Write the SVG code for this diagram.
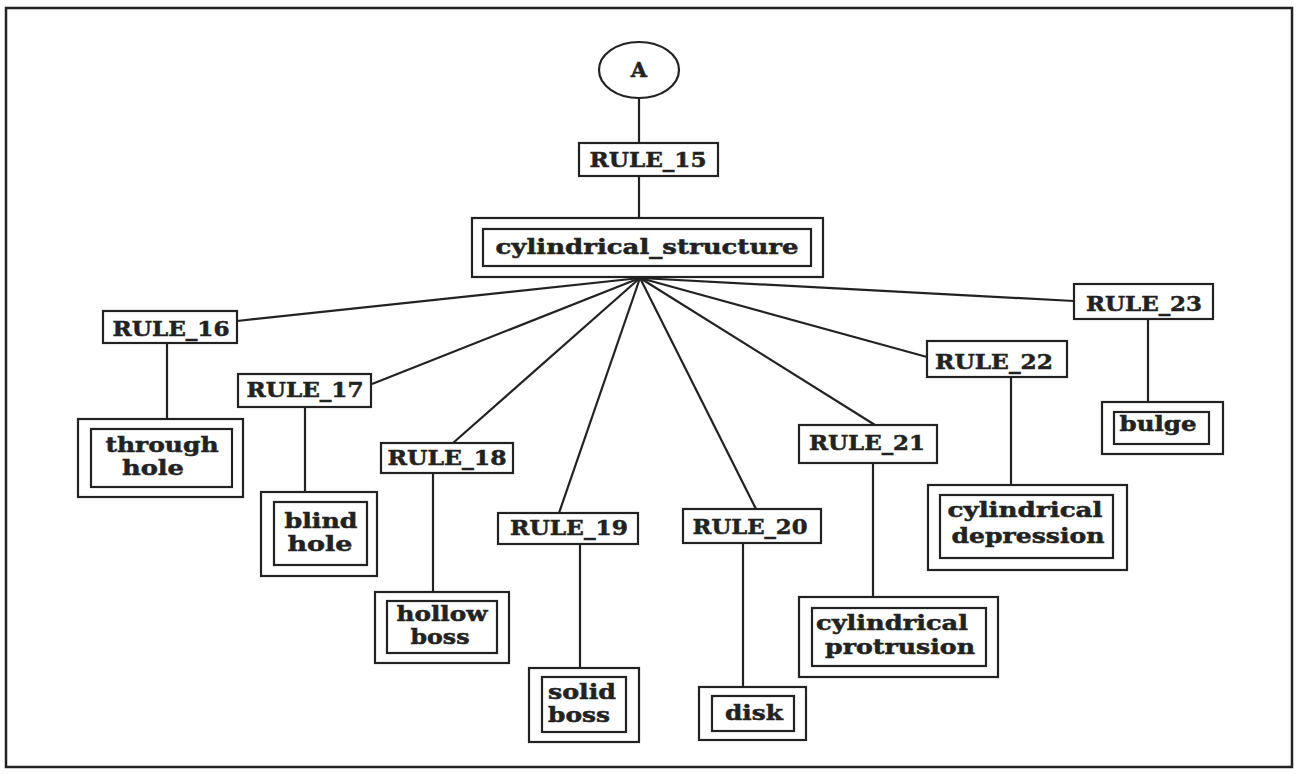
<svg xmlns="http://www.w3.org/2000/svg" width="1297" height="774" viewBox="0 0 1297 774">
<style>
.b{fill:#fff;stroke:#222;stroke-width:2.2}
.c line{stroke:#222;stroke-width:2.2}
text{font-family:"DejaVu Serif","Liberation Serif",serif;font-weight:bold;font-size:21px;fill:#222;stroke:#222;stroke-width:0.5;text-anchor:middle}
</style>
<rect x="0" y="0" width="1297" height="774" fill="#fff"/>
<rect x="6" y="8" width="1286" height="759" fill="none" stroke="#222" stroke-width="2.5"/>
<g id="connectors" class="c">
<line x1="639" y1="98" x2="639" y2="143"/>
<line x1="639" y1="176" x2="639" y2="218"/>
<line x1="640" y1="278" x2="237" y2="321"/>
<line x1="640" y1="278" x2="372" y2="384"/>
<line x1="640" y1="278" x2="453" y2="443"/>
<line x1="640" y1="278" x2="559" y2="513"/>
<line x1="640" y1="278" x2="756" y2="509"/>
<line x1="640" y1="278" x2="875" y2="425"/>
<line x1="640" y1="278" x2="927" y2="357"/>
<line x1="640" y1="278" x2="1074" y2="301"/>
<line x1="167" y1="343" x2="167" y2="419"/>
<line x1="305" y1="407" x2="305" y2="492"/>
<line x1="433" y1="473" x2="433" y2="592"/>
<line x1="580" y1="544" x2="580" y2="668"/>
<line x1="743" y1="543" x2="743" y2="687"/>
<line x1="873" y1="463" x2="873" y2="597"/>
<line x1="1011" y1="377" x2="1011" y2="485"/>
<line x1="1148" y1="319" x2="1148" y2="402"/>
</g>
<g id="nodeA"><ellipse class="b" cx="639" cy="70" rx="40" ry="28"/><text x="639" y="77" font-size="19">A</text></g>
<g id="rule15"><rect class="b" x="579" y="143" width="139" height="33"/><text x="648" y="167" textLength="117" lengthAdjust="spacingAndGlyphs">RULE_15</text></g>
<g id="cylindrical_structure"><rect class="b" x="472" y="218" width="351" height="59"/><rect class="b" x="483" y="229" width="328" height="37"/><text x="647" y="254" textLength="303" lengthAdjust="spacingAndGlyphs">cylindrical_structure</text></g>
<g id="rule16"><rect class="b" x="103" y="311" width="134" height="32"/><text x="171" y="336" textLength="117" lengthAdjust="spacingAndGlyphs">RULE_16</text></g>
<g id="through_hole"><rect class="b" x="78" y="419" width="165" height="78"/><rect class="b" x="91" y="429" width="141" height="58"/><text x="162" y="452" textLength="113" lengthAdjust="spacingAndGlyphs">through</text><text x="153" y="475" textLength="62" lengthAdjust="spacingAndGlyphs">hole</text></g>
<g id="rule17"><rect class="b" x="238" y="374" width="133" height="33"/><text x="305" y="397" textLength="117" lengthAdjust="spacingAndGlyphs">RULE_17</text></g>
<g id="blind_hole"><rect class="b" x="261" y="492" width="116" height="84"/><rect class="b" x="274" y="502" width="93" height="63"/><text x="321" y="528" textLength="73" lengthAdjust="spacingAndGlyphs">blind</text><text x="320" y="551" textLength="65" lengthAdjust="spacingAndGlyphs">hole</text></g>
<g id="rule18"><rect class="b" x="381" y="443" width="132" height="30"/><text x="447" y="465" textLength="119" lengthAdjust="spacingAndGlyphs">RULE_18</text></g>
<g id="hollow_boss"><rect class="b" x="375" y="592" width="134" height="71"/><rect class="b" x="387" y="601" width="110" height="52"/><text x="442" y="621" textLength="91" lengthAdjust="spacingAndGlyphs">hollow</text><text x="440" y="644" textLength="59" lengthAdjust="spacingAndGlyphs">boss</text></g>
<g id="rule19"><rect class="b" x="498" y="513" width="140" height="31"/><text x="569" y="535" textLength="118" lengthAdjust="spacingAndGlyphs">RULE_19</text></g>
<g id="solid_boss"><rect class="b" x="529" y="668" width="110" height="74"/><rect class="b" x="542" y="677" width="84" height="55"/><text x="582" y="699" textLength="68" lengthAdjust="spacingAndGlyphs">solid</text><text x="579" y="722" textLength="62" lengthAdjust="spacingAndGlyphs">boss</text></g>
<g id="rule20"><rect class="b" x="683" y="509" width="138" height="34"/><text x="750" y="534" textLength="115" lengthAdjust="spacingAndGlyphs">RULE_20</text></g>
<g id="disk"><rect class="b" x="699" y="687" width="107" height="53"/><rect class="b" x="712" y="696" width="82" height="35"/><text x="754" y="720" textLength="58" lengthAdjust="spacingAndGlyphs">disk</text></g>
<g id="rule21"><rect class="b" x="799" y="425" width="138" height="38"/><text x="867" y="450" textLength="116" lengthAdjust="spacingAndGlyphs">RULE_21</text></g>
<g id="cylindrical_protrusion"><rect class="b" x="799" y="597" width="199" height="80"/><rect class="b" x="812" y="608" width="174" height="58"/><text x="892" y="630" textLength="152" lengthAdjust="spacingAndGlyphs">cylindrical</text><text x="900" y="654" textLength="150" lengthAdjust="spacingAndGlyphs">protrusion</text></g>
<g id="rule22"><rect class="b" x="927" y="341" width="140" height="36"/><text x="994" y="369" textLength="118" lengthAdjust="spacingAndGlyphs">RULE_22</text></g>
<g id="cylindrical_depression"><rect class="b" x="928" y="485" width="199" height="85"/><rect class="b" x="940" y="495" width="173" height="63"/><text x="1025" y="517" textLength="155" lengthAdjust="spacingAndGlyphs">cylindrical</text><text x="1028" y="543" textLength="153" lengthAdjust="spacingAndGlyphs">depression</text></g>
<g id="rule23"><rect class="b" x="1074" y="284" width="139" height="35"/><text x="1144" y="311" textLength="116" lengthAdjust="spacingAndGlyphs">RULE_23</text></g>
<g id="bulge"><rect class="b" x="1102" y="402" width="121" height="52"/><rect class="b" x="1114" y="412" width="95" height="32"/><text x="1158" y="431" textLength="77" lengthAdjust="spacingAndGlyphs">bulge</text></g>
</svg>
